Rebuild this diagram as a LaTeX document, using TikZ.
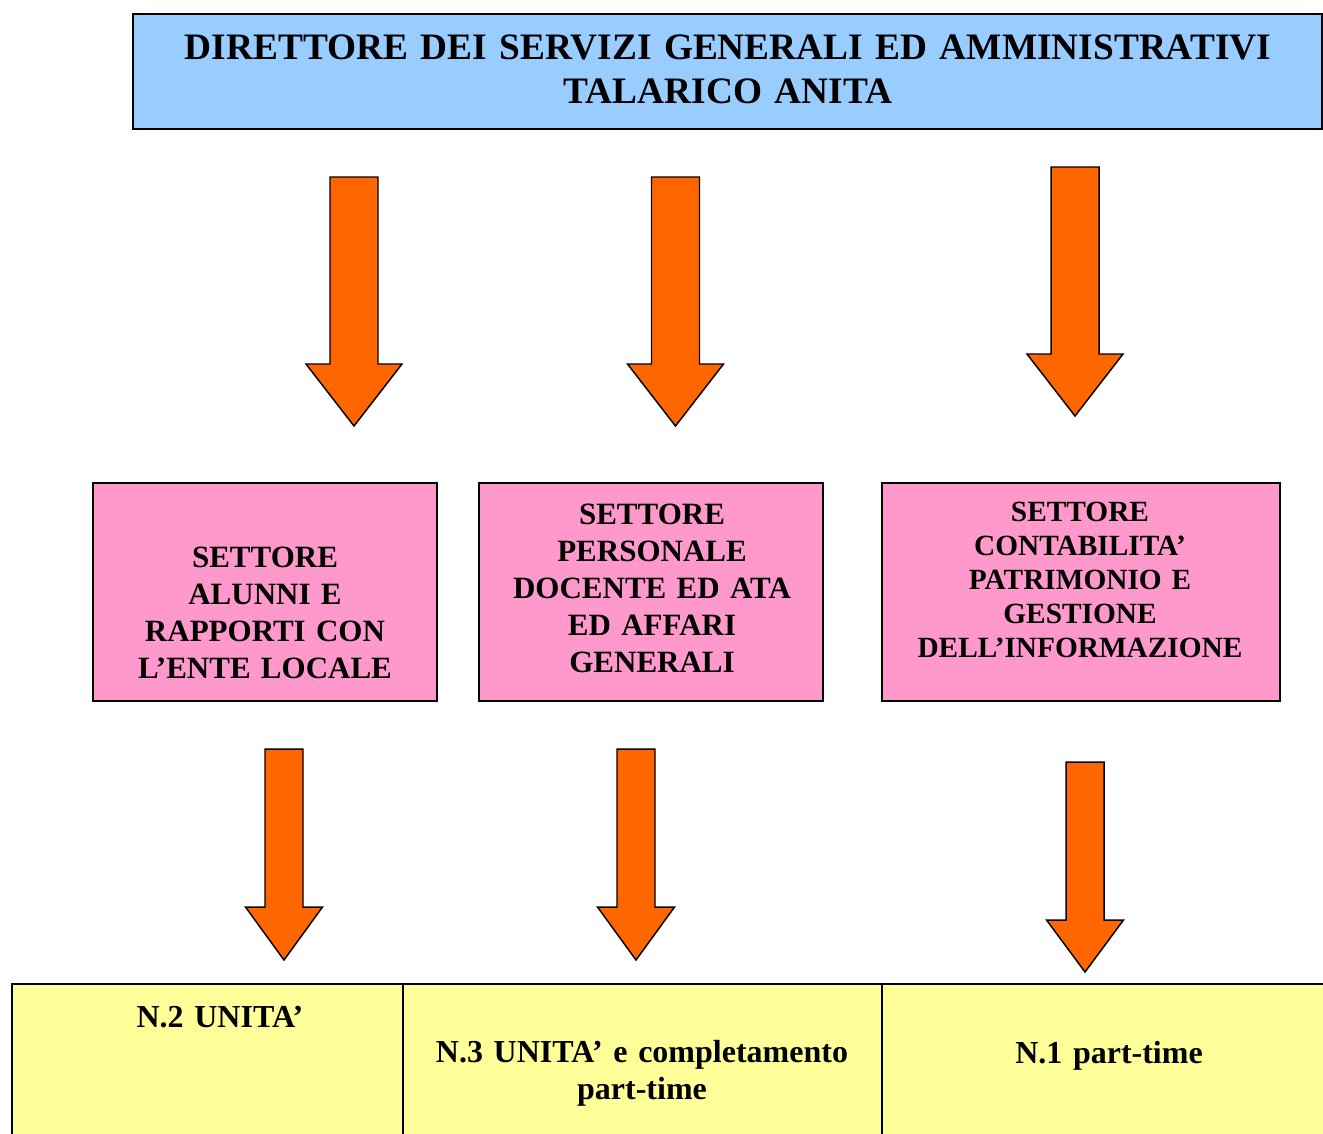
\documentclass[tikz,border=0pt]{standalone}
\usepackage{fontspec}
\setmainfont{Liberation Serif}
\newfontfamily\titlefam{Liberation Serif}[WordSpace=0.75]
\definecolor{dirblue}{HTML}{99CCFF}
\definecolor{setpink}{HTML}{FF99CC}
\definecolor{unityellow}{HTML}{FFFF99}
\definecolor{arroworange}{HTML}{FF6600}
\newcommand\blockarrow[6]{%
  \draw[blockarrow] (#1-#5,#2) -- (#1+#5,#2) -- (#1+#5,#3) -- (#1+#6,#3)
    -- (#1,#4) -- (#1-#6,#3) -- (#1-#5,#3) -- cycle;}
\begin{document}
\begin{tikzpicture}[x=0.75pt,y=-0.75pt,
  box/.style={draw=black, line width=1.2pt, inner sep=0pt, outer sep=0pt},
  txt/.style={inner sep=0pt, anchor=base, align=center, text width=#1},
  titlefont/.style={font=\titlefam\fontsize{28pt}{33pt}\selectfont\bfseries},
  setfont/.style={font=\fontsize{23.25pt}{27.75pt}\selectfont\bfseries},
  setfontsmall/.style={font=\fontsize{22pt}{25.5pt}\selectfont\bfseries},
  unitfont/.style={font=\fontsize{24pt}{27.75pt}\selectfont\bfseries},
  blockarrow/.style={fill=arroworange, draw=black, line width=1.1pt, line join=miter},
]
\clip (0,0) rectangle (1323,1133);
\fill[white] (0,0) rectangle (1323,1133);

% top box
\node[box, fill=dirblue, minimum width=891.75pt, minimum height=86.25pt] (dir) at (727.5,71.5) {};
\node[txt=880pt, titlefont] (dirtext) at (728,59)
  {DIRETTORE DEI SERVIZI GENERALI ED AMMINISTRATIVI\\TALARICO ANITA};

% sector boxes
\node[box, fill=setpink, minimum width=258pt, minimum height=163.5pt] (s1) at (265,592) {};
\node[box, fill=setpink, minimum width=258pt, minimum height=163.5pt] (s2) at (651,592) {};
\node[box, fill=setpink, minimum width=298.5pt, minimum height=163.5pt] (s3) at (1081,592) {};

\node[txt=250pt, setfont] (s1text) at (265,567)
  {SETTORE\\ALUNNI E\\RAPPORTI CON\\L’ENTE LOCALE};
\node[txt=250pt, setfont] (s2text) at (652,524)
  {SETTORE\\PERSONALE\\DOCENTE ED ATA\\ED AFFARI\\GENERALI};
\node[txt=290pt, setfontsmall] (s3text) at (1080,521)
  {SETTORE\\CONTABILITA’\\PATRIMONIO E\\GESTIONE\\DELL’INFORMAZIONE};

% unit cells
\node[box, fill=unityellow, minimum width=293.25pt, minimum height=120.75pt] (u1) at (207.5,1064.5) {};
\node[box, fill=unityellow, minimum width=359.25pt, minimum height=120.75pt] (u2) at (642.5,1064.5) {};
\node[box, fill=unityellow, minimum width=343.5pt, minimum height=120.75pt] (u3) at (1111,1064.5) {};

\node[txt=280pt, unitfont] (u1text) at (220,1027) {N.2 UNITA’};
\node[txt=350pt, unitfont] (u2text) at (642,1062) {N.3 UNITA’ e completamento\\part-time};
\node[txt=330pt, unitfont] (u3text) at (1109,1063) {N.1 part-time};

% block arrows: director -> sectors
\blockarrow{354}{177}{364}{426}{24}{48}
\blockarrow{675.5}{177}{364}{426}{24}{48}
\blockarrow{1075}{167}{354}{416}{24}{48}
% sectors -> units
\blockarrow{284}{749}{907}{960}{19}{38.5}
\blockarrow{636}{749}{907}{960}{19}{38.5}
\blockarrow{1085}{762}{920}{972}{19}{38.5}
\end{tikzpicture}
\end{document}
